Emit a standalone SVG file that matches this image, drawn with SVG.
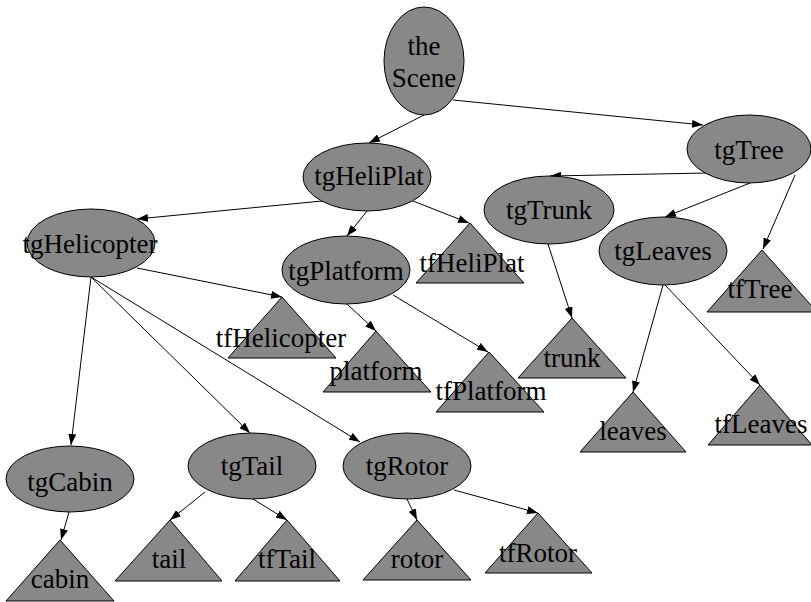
<svg xmlns="http://www.w3.org/2000/svg" width="811" height="602" viewBox="0 0 811 602">
<style>
.n{fill:#888888;stroke:#000;stroke-width:1}
.t{font-family:"Liberation Serif","Times New Roman",serif;font-size:27px;fill:#000;text-anchor:middle}
.e{stroke:#000;stroke-width:1;fill:none;marker-end:url(#ah)}
</style>
<defs>
<marker id="ah" markerWidth="11" markerHeight="8" refX="11" refY="4" orient="auto" markerUnits="userSpaceOnUse">
<path d="M0,0 L11,4 L0,8 z" fill="#000"/>
</marker>
</defs>
<rect width="811" height="602" fill="#fff"/>
<g id="connectors">
<line class="e" x1="424" y1="115" x2="369" y2="143"/>
<line class="e" x1="453" y1="100" x2="703" y2="125"/>
<line class="e" x1="322" y1="201" x2="137" y2="219"/>
<line class="e" x1="367" y1="211" x2="347" y2="236"/>
<line class="e" x1="413" y1="201" x2="469" y2="223"/>
<line class="e" x1="707" y1="173" x2="550" y2="176"/>
<line class="e" x1="750" y1="183" x2="665" y2="217"/>
<line class="e" x1="795" y1="175" x2="763" y2="249"/>
<line class="e" x1="548" y1="244" x2="572" y2="318"/>
<line class="e" x1="137" y1="268" x2="282" y2="297"/>
<line class="e" x1="347" y1="304" x2="376" y2="331"/>
<line class="e" x1="393" y1="295" x2="488" y2="352"/>
<line class="e" x1="663" y1="285" x2="633" y2="392"/>
<line class="e" x1="665" y1="285" x2="760" y2="385"/>
<line class="e" x1="91" y1="277" x2="71" y2="445"/>
<line class="e" x1="91" y1="277" x2="250" y2="433"/>
<line class="e" x1="91" y1="277" x2="360" y2="442"/>
<line class="e" x1="69" y1="512" x2="61" y2="540"/>
<line class="e" x1="205" y1="492" x2="170" y2="520"/>
<line class="e" x1="253" y1="499" x2="287" y2="520"/>
<line class="e" x1="407" y1="499" x2="417" y2="520"/>
<line class="e" x1="454" y1="490" x2="538" y2="513"/>
</g>
<g id="theScene"><ellipse class="n" cx="424" cy="61" rx="40" ry="54"/><text class="t" x="424" y="55">the</text><text class="t" x="424" y="87">Scene</text></g>
<g id="tgHeliPlat"><ellipse class="n" cx="367" cy="177" rx="64" ry="34"/><text class="t" x="369" y="185">tgHeliPlat</text></g>
<g id="tgTree"><ellipse class="n" cx="749" cy="149" rx="62" ry="34"/><text class="t" x="749" y="159">tgTree</text></g>
<g id="tgTrunk"><ellipse class="n" cx="549" cy="210" rx="65" ry="34"/><text class="t" x="549" y="219">tgTrunk</text></g>
<g id="tgLeaves"><ellipse class="n" cx="663" cy="251" rx="64" ry="34"/><text class="t" x="663" y="260">tgLeaves</text></g>
<g id="tfTree"><polygon class="n" points="762,250 707,312 817,312"/><text class="t" x="760" y="298">tfTree</text></g>
<g id="tgHelicopter"><ellipse class="n" cx="91" cy="243" rx="64" ry="34"/><text class="t" x="90" y="253">tgHelicopter</text></g>
<g id="tgPlatform"><ellipse class="n" cx="346" cy="270" rx="64" ry="34"/><text class="t" x="346" y="280">tgPlatform</text></g>
<g id="tfHeliPlat"><polygon class="n" points="470,223 416,283 524,283"/><text class="t" x="472" y="272">tfHeliPlat</text></g>
<g id="tfHelicopter"><polygon class="n" points="282,297 228,358 336,358"/><text class="t" x="281" y="347">tfHelicopter</text></g>
<g id="platform"><polygon class="n" points="376,331 323,392 431,392"/><text class="t" x="376" y="380">platform</text></g>
<g id="tfPlatform"><polygon class="n" points="489,352 436,412 544,412"/><text class="t" x="491" y="400">tfPlatform</text></g>
<g id="trunk"><polygon class="n" points="572,318 518,378 626,378"/><text class="t" x="572" y="367">trunk</text></g>
<g id="leaves"><polygon class="n" points="633,392 580,452 686,452"/><text class="t" x="633" y="440">leaves</text></g>
<g id="tfLeaves"><polygon class="n" points="760,385 708,445 812,445"/><text class="t" x="761" y="433">tfLeaves</text></g>
<g id="tgCabin"><ellipse class="n" cx="70" cy="479" rx="64" ry="33"/><text class="t" x="70" y="491">tgCabin</text></g>
<g id="tgTail"><ellipse class="n" cx="252" cy="466" rx="64" ry="33"/><text class="t" x="252" y="475">tgTail</text></g>
<g id="tgRotor"><ellipse class="n" cx="407" cy="466" rx="64" ry="33"/><text class="t" x="407" y="475">tgRotor</text></g>
<g id="cabin"><polygon class="n" points="60,540 6,601 114,601"/><text class="t" x="60" y="588">cabin</text></g>
<g id="tail"><polygon class="n" points="170,520 115,581 222,581"/><text class="t" x="169" y="568">tail</text></g>
<g id="tfTail"><polygon class="n" points="287,520 235,581 340,581"/><text class="t" x="287" y="568">tfTail</text></g>
<g id="rotor"><polygon class="n" points="417,520 363,580 471,580"/><text class="t" x="417" y="568">rotor</text></g>
<g id="tfRotor"><polygon class="n" points="538,513 485,573 592,573"/><text class="t" x="538" y="562">tfRotor</text></g>
</svg>
